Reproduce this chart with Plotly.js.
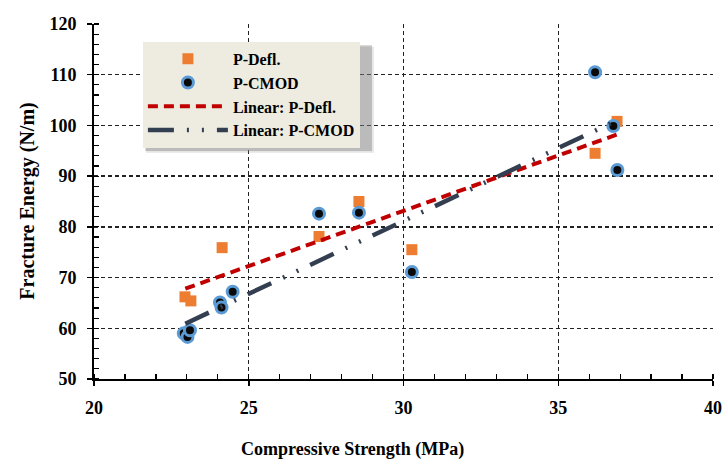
<!DOCTYPE html>
<html>
<head>
<meta charset="utf-8">
<script src="https://cdn.plot.ly/plotly-3.0.1.min.js"></script>
<style>
  html, body { margin: 0; padding: 0; background: #fff; }
  #chart { width: 725px; height: 460px; }
</style>
</head>
<body>
<div id="chart"></div>
<script>
// Compressive strength (MPa) vs fracture energy (N/m)
const deflX = [22.94, 23.13, 24.14, 27.27, 28.56, 30.27, 36.19, 36.90];
const deflY = [66.2, 65.4, 75.9, 78.1, 85.0, 75.5, 94.5, 100.8];

const cmodX = [22.90, 23.02, 23.10, 24.07, 24.12, 24.48, 27.27, 28.56, 30.27, 36.19, 36.78, 36.91];
const cmodY = [59.0, 58.3, 59.6, 65.1, 64.1, 67.2, 82.6, 82.8, 71.1, 110.5, 99.9, 91.2];

// Linear trend lines (end points)
const fitX = [22.95, 36.9];
const fitDeflY = [67.8, 98.2];
const fitCmodY = [60.9, 101.0];

const xTicks = [20, 25, 30, 35, 40];
const yTicks = [50, 60, 70, 80, 90, 100, 110, 120];

const serif = 'Liberation Serif, Times New Roman, serif';

const traces = [
  {
    x: deflX, y: deflY, type: 'scatter', mode: 'markers', name: 'P-Defl.',
    marker: { symbol: 'square', size: 11, color: '#ED7D31' }
  },
  {
    x: cmodX, y: cmodY, type: 'scatter', mode: 'markers', name: 'P-CMOD',
    marker: { symbol: 'circle', size: 11, color: '#0a0a0a', line: { color: '#5B9BD5', width: 3 } }
  },
  {
    x: fitX, y: fitDeflY, type: 'scatter', mode: 'lines', name: 'Linear: P-Defl.',
    line: { color: '#C00000', width: 4, dash: '10px,6px' }
  },
  {
    x: fitX, y: fitCmodY, type: 'scatter', mode: 'lines', name: 'Linear: P-CMOD',
    line: { color: '#333F50', width: 4.5, dash: '26px,13px,2px,13px,2px,13px' }
  }
];

const gridStyle = { gridcolor: '#222', gridwidth: 1.3, griddash: '4px,3px' };

const layout = {
  width: 725, height: 460,
  margin: { l: 94, r: 12, t: 24, b: 81 },
  paper_bgcolor: '#fff', plot_bgcolor: '#fff',
  font: { family: serif, color: '#000' },
  showlegend: true,
  legend: {
    x: 0.079, y: 0.95, xanchor: 'left', yanchor: 'top',
    bgcolor: '#EEECE1', bordercolor: '#EEECE1', borderwidth: 0,
    font: { family: serif, size: 16, color: '#000', weight: 'bold' },
    itemwidth: 80
  },
  xaxis: Object.assign({
    range: [20, 40], tickvals: xTicks, ticktext: xTicks.map(String),
    showline: true, linecolor: '#000', linewidth: 2,
    ticks: 'outside', ticklen: 5, tickwidth: 1.5, tickcolor: '#000',
    ticklabelstandoff: 6,
    tickfont: { family: serif, size: 18, weight: 'bold' },
    minor: { dtick: 1, ticks: 'inside', ticklen: 5, tickwidth: 1.2, tickcolor: '#000', showgrid: false },
    zeroline: false
  }, gridStyle),
  yaxis: Object.assign({
    range: [50, 120], tickvals: yTicks, ticktext: yTicks.map(String),
    showline: true, linecolor: '#000', linewidth: 2,
    ticks: 'outside', ticklen: 5, tickwidth: 1.5, tickcolor: '#000',
    ticklabelstandoff: 7,
    tickfont: { family: serif, size: 18, weight: 'bold' },
    minor: { dtick: 2, ticks: 'inside', ticklen: 5, tickwidth: 1.2, tickcolor: '#000', showgrid: false },
    zeroline: false
  }, gridStyle),
  annotations: [
    { text: 'Compressive Strength (MPa)', xref: 'paper', yref: 'paper',
      x: 0.417, y: -0.198, xanchor: 'center', yanchor: 'middle', showarrow: false,
      font: { family: serif, size: 18, weight: 'bold', color: '#000' } },
    { text: 'Fracture Energy (N/m)', xref: 'paper', yref: 'paper', textangle: -90,
      x: -0.108, y: 0.5, xanchor: 'center', yanchor: 'middle', showarrow: false,
      font: { family: serif, size: 20, weight: 'bold', color: '#000' } }
  ],
  shapes: [
    // soft drop shadow behind the legend box
    { type: 'rect', xref: 'paper', yref: 'paper', layer: 'above',
      x0: 0.084, x1: 0.452, y0: 0.637, y1: 0.936,
      fillcolor: 'rgba(150,150,150,0.25)', line: { width: 0 } },
    { type: 'rect', xref: 'paper', yref: 'paper', layer: 'above',
      x0: 0.083, x1: 0.449, y0: 0.642, y1: 0.940,
      fillcolor: 'rgba(110,110,110,0.35)', line: { width: 0 } }
  ]
};

Plotly.newPlot('chart', traces, layout, { displayModeBar: false, staticPlot: true });
</script>
</body>
</html>
